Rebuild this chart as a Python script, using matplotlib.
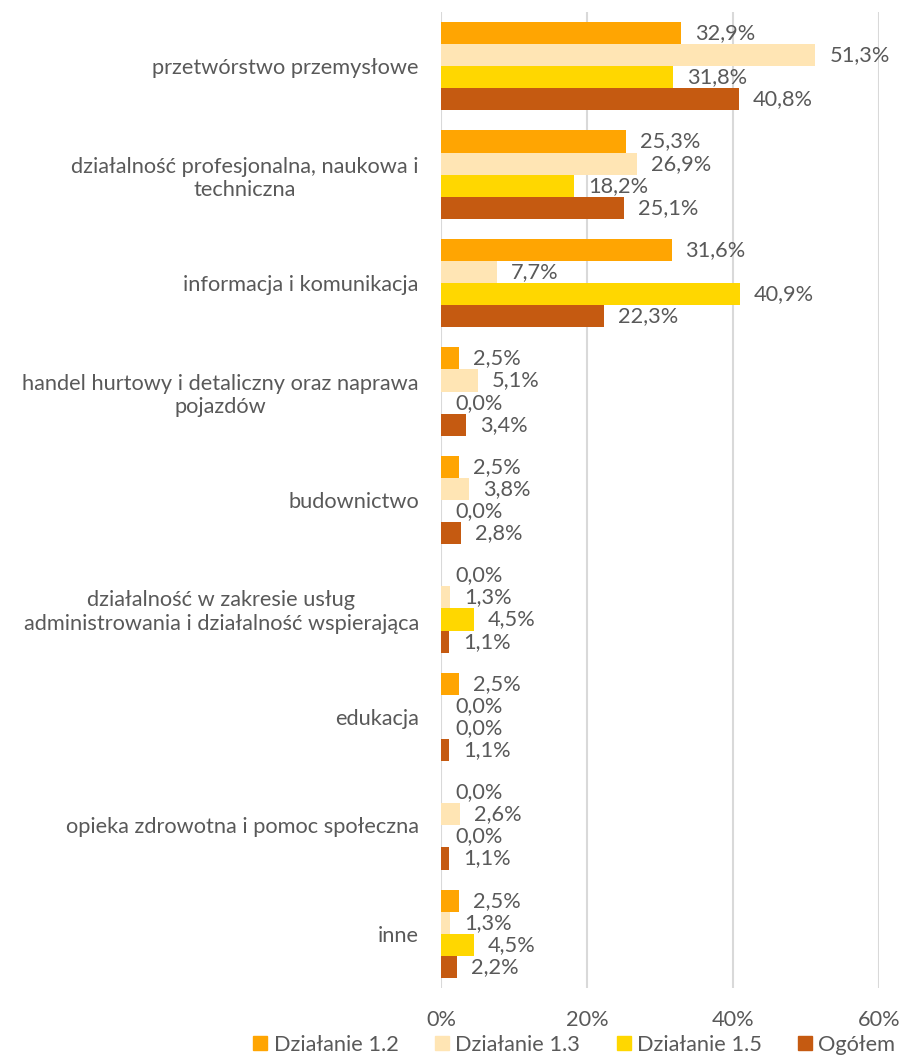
import matplotlib
matplotlib.use("Agg")
import matplotlib.pyplot as plt
from matplotlib.lines import Line2D
import numpy as np

categories = [
    "przetwórstwo przemysłowe",
    "działalność profesjonalna, naukowa i\ntechniczna",
    "informacja i komunikacja",
    "handel hurtowy i detaliczny oraz naprawa\npojazdów",
    "budownictwo",
    "działalność w zakresie usług\nadministrowania i działalność wspierająca",
    "edukacja",
    "opieka zdrowotna i pomoc społeczna",
    "inne",
]
series_names = ["Działanie 1.2", "Działanie 1.3", "Działanie 1.5", "Ogółem"]
dz12 = [32.9, 25.3, 31.6, 2.5, 2.5, 0.0, 2.5, 0.0, 2.5]
dz13 = [51.3, 26.9, 7.7, 5.1, 3.8, 1.3, 0.0, 2.6, 1.3]
dz15 = [31.8, 18.2, 40.9, 0.0, 0.0, 4.5, 0.0, 0.0, 4.5]
ogolem = [40.8, 25.1, 22.3, 3.4, 2.8, 1.1, 1.1, 1.1, 2.2]
colors = ["#FFA502", "#FFE5B4", "#FFD700", "#C55A11"]
xticks = [0, 20, 40, 60]

plt.rcParams['font.family'] = ['Lato', 'DejaVu Sans']
text_color = "#595959"
fs = 15.7

fig = plt.figure(figsize=(9.03, 10.59), dpi=100)
ax = fig.add_axes([441/903, 1 - 988/1059, (879-441)/903, (988-12)/1059])

n = len(categories)
y = np.arange(n)
bh = 0.204
data = [dz12, dz13, dz15, ogolem]
for k, (vals, c) in enumerate(zip(data, colors)):
    pos = y + (k - 1.5) * bh
    ax.barh(pos, vals, height=bh, color=c, zorder=3)
    for p, v in zip(pos, vals):
        ax.annotate(f"{v:.1f}%".replace(".", ","), (v, p), xytext=(10, 0),
                    textcoords="offset points", va="center", ha="left",
                    fontsize=fs, color=text_color, zorder=4)

ax.set_ylim(n - 0.5, -0.5)
ax.set_xlim(0, 60)
ax.set_xticks(xticks)
ax.set_xticklabels([f"{t}%" for t in xticks], fontsize=fs, color=text_color)
ax.set_yticks(y)
ax.set_yticklabels(categories, fontsize=fs, color=text_color, multialignment="center")
ax.tick_params(axis="both", length=0)
ax.tick_params(axis="x", pad=16)
ax.tick_params(axis="y", pad=16)
for s in ax.spines.values():
    s.set_visible(False)
ax.grid(axis="x", color="#D9D9D9", linewidth=1.5, zorder=0)
ax.set_axisbelow(True)

handles = [Line2D([], [], marker="s", linestyle="none", markersize=10,
                  markerfacecolor=c, markeredgecolor=c) for c in colors]
fig.legend(handles, series_names, loc="center", bbox_to_anchor=(0.634, 1 - 1045/1059),
           ncol=4, frameon=False, fontsize=fs, labelcolor=text_color,
           handletextpad=0.1, columnspacing=1.5, handlelength=1.0,
           borderpad=0.0)

fig.savefig("out.png", dpi=100)
